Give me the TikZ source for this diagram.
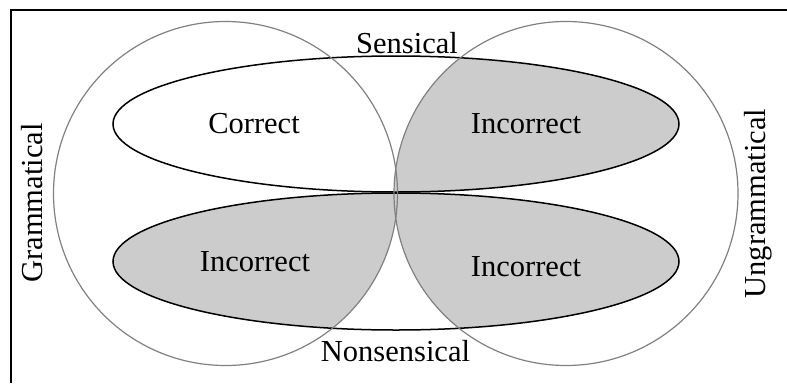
\documentclass[tikz,border=0pt]{standalone}
\usepackage{fontspec}
\setmainfont{Liberation Serif}

\begin{document}
\begin{tikzpicture}[x=1pt, y=-1pt,
    circ/.style={draw=black!50, line width=1.2pt},
    ell/.style={draw=black, line width=1.5pt},
    shaded/.style={fill=black!20},
    lbl/.style={anchor=base, font=\fontsize{30.5}{36}\selectfont}]
  \useasboundingbox (0,0) rectangle (787,383);
  \clip (0,0) rectangle (787,383);
  \coordinate (gc) at (225.5,193.5);
  \coordinate (uc) at (566,193.5);
  \coordinate (sc) at (396,124);
  \coordinate (nc) at (396,261.5);
  \begin{scope}
    \clip (uc) circle [radius=172];
    \fill[shaded] (sc) ellipse [x radius=283, y radius=68];
  \end{scope}
  \begin{scope}
    \clip (nc) ellipse [x radius=283, y radius=68.5];
    \fill[shaded] (gc) circle [radius=172] (uc) circle [radius=172];
  \end{scope}
  \draw[ell] (sc) ellipse [x radius=283, y radius=68];
  \draw[ell] (nc) ellipse [x radius=283, y radius=68.5];
  \draw[circ] (gc) circle [radius=172];
  \draw[circ] (uc) circle [radius=172];
  \draw[line width=1.5pt] (11,383) -- (11,10) -- (787,10);
  \node[lbl] (sens) at (407,53) {Sensical};
  \node[lbl] (nons) at (395.5,361) {Nonsensical};
  \node[lbl] (corr) at (254,133) {Correct};
  \node[lbl] (inc1) at (526,133) {Incorrect};
  \node[lbl] (inc2) at (255,271) {Incorrect};
  \node[lbl] (inc3) at (526,276) {Incorrect};
  \node[lbl, rotate=90] (gram) at (42,203) {Grammatical};
  \node[lbl, rotate=90] (ungr) at (765,203.5) {Ungrammatical};
\end{tikzpicture}
\end{document}
